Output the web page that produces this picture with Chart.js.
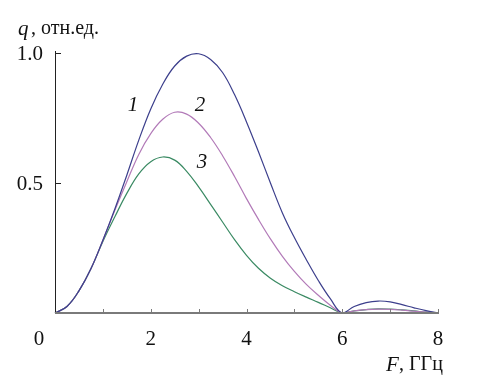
<!DOCTYPE html>
<html lang="ru">
<head>
    <meta charset="UTF-8">
    <title>q(F)</title>
    <script src="https://cdn.jsdelivr.net/npm/chart.js@4.4.0/dist/chart.umd.min.js"></script>
    <style>
        body {
            margin: 0;
            background-color: #fff;
            font-family: "Liberation Serif", "Times New Roman", serif;
        }
        #wrap {
            width: 492px;
            height: 375px;
        }
        .preload {
            position: absolute;
            left: -1000px;
            font-family: "Liberation Serif";
        }
    </style>
</head>
<body>
    <span class="preload">0.5 <i>q</i> отн.ед. ГГц</span>
    <div id="wrap"><canvas id="qChart" width="492" height="375"></canvas></div>
    <script>
        // Frequency grid, GHz
        const freq = [0, 0.25, 0.5, 0.75, 1, 1.25, 1.5, 1.75, 2, 2.25, 2.5, 2.75, 3, 3.25, 3.5, 3.75,
                      4, 4.25, 4.5, 4.75, 5, 5.25, 5.5, 5.75, 6, 6.25, 6.5, 6.75, 7, 7.25, 7.5, 7.75, 8];

        // Curves 1, 2, 3
        const curve1 = [0, 0.025, 0.085, 0.17, 0.28, 0.40, 0.53, 0.665, 0.785, 0.88, 0.95, 0.988, 0.997, 0.975, 0.925, 0.84,
                        0.735, 0.62, 0.50, 0.385, 0.29, 0.205, 0.125, 0.055, 0, 0.025, 0.04, 0.046, 0.043, 0.032, 0.02, 0.009, 0];
        const curve2 = [0, 0.025, 0.085, 0.17, 0.28, 0.395, 0.505, 0.61, 0.69, 0.745, 0.772, 0.765, 0.73, 0.675, 0.605, 0.525,
                        0.44, 0.36, 0.285, 0.218, 0.16, 0.11, 0.068, 0.03, 0, 0.008, 0.013, 0.015, 0.014, 0.011, 0.007, 0.003, 0];
        const curve3 = [0, 0.025, 0.085, 0.17, 0.275, 0.37, 0.46, 0.535, 0.582, 0.60, 0.588, 0.545, 0.485, 0.418, 0.35, 0.282,
                        0.222, 0.172, 0.134, 0.105, 0.082, 0.061, 0.041, 0.02, 0, 0.008, 0.013, 0.016, 0.015, 0.012, 0.008, 0.003, 0];

        const xTicks = [0, 2, 4, 6, 8];
        const xMinorTicks = [1, 2, 3, 4, 5, 6, 7, 8];
        const yTicks = [0.5, 1.0];
        const curveNames = ['1', '2', '3'];

        const SERIF = '"Liberation Serif", "Times New Roman", serif';
        const toPoints = ys => freq.map((f, i) => ({ x: f, y: ys[i] }));

        // Axes, ticks and texts drawn in the old-plot style
        const axesPlugin = {
            id: 'axesPlugin',
            afterDatasetsDraw(chart) {
                const ctx = chart.ctx;
                const xs = chart.scales.x, ys = chart.scales.y;
                const x0 = xs.getPixelForValue(0), x8 = xs.getPixelForValue(8);
                const y0 = ys.getPixelForValue(0), y1 = ys.getPixelForValue(1);
                ctx.save();

                // y axis
                ctx.strokeStyle = '#222';
                ctx.lineWidth = 1;
                ctx.beginPath();
                ctx.moveTo(x0 + 0.5, y1 - 2);
                ctx.lineTo(x0 + 0.5, y0);
                ctx.stroke();
                yTicks.forEach(v => {
                    const py = Math.round(ys.getPixelForValue(v)) + 0.5;
                    ctx.beginPath();
                    ctx.moveTo(x0, py);
                    ctx.lineTo(x0 + 6, py);
                    ctx.stroke();
                });

                // x axis
                ctx.strokeStyle = '#7a7a7a';
                ctx.lineWidth = 2;
                ctx.beginPath();
                ctx.moveTo(x0, y0);
                ctx.lineTo(x8 + 1, y0);
                ctx.stroke();
                ctx.lineWidth = 1;
                xMinorTicks.forEach(v => {
                    const px = Math.round(xs.getPixelForValue(v)) + 0.5;
                    ctx.beginPath();
                    ctx.moveTo(px, y0);
                    ctx.lineTo(px, y0 - 4);
                    ctx.stroke();
                });

                // tick labels
                ctx.fillStyle = '#111';
                ctx.font = '21px ' + SERIF;
                ctx.textBaseline = 'middle';
                ctx.textAlign = 'right';
                yTicks.forEach(v => {
                    ctx.fillText(v.toFixed(1), x0 - 12, ys.getPixelForValue(v) + 1);
                });
                ctx.textAlign = 'center';
                xTicks.forEach(v => {
                    const px = v === 0 ? x0 - 16 : xs.getPixelForValue(v);
                    ctx.fillText(String(v), px, y0 + 26);
                });

                // axis titles
                ctx.textAlign = 'left';
                ctx.font = 'italic 21px ' + SERIF;
                ctx.fillText('q', 18, 29);
                ctx.font = '20px ' + SERIF;
                ctx.fillText(', отн.ед.', 31, 29);
                ctx.font = 'italic 21px ' + SERIF;
                ctx.fillText('F', 386, 365);
                ctx.font = '20px ' + SERIF;
                ctx.fillText(', ГГц', 399, 365);

                // curve numbers
                ctx.font = 'italic 21px ' + SERIF;
                ctx.textAlign = 'center';
                const marks = [[1.63, 0.80], [3.03, 0.80], [3.07, 0.577]];
                marks.forEach((m, i) => {
                    ctx.fillText(curveNames[i], xs.getPixelForValue(m[0]), ys.getPixelForValue(m[1]));
                });
                ctx.restore();
            }
        };

        const lineStyle = color => ({
            borderColor: color,
            borderWidth: 1.2,
            pointRadius: 0,
            fill: false,
            tension: 0.4,
            clip: false
        });

        function drawChart() {
            new Chart(document.getElementById('qChart').getContext('2d'), {
                type: 'line',
                data: {
                    datasets: [
                        { label: '1', data: toPoints(curve1), ...lineStyle('#3c3f8c') },
                        { label: '2', data: toPoints(curve2), ...lineStyle('#b27ab8') },
                        { label: '3', data: toPoints(curve3), ...lineStyle('#3a8a63') }
                    ]
                },
                options: {
                    responsive: false,
                    animation: false,
                    layout: { padding: { left: 55, right: 54, top: 53, bottom: 62 } },
                    plugins: { legend: { display: false }, tooltip: { enabled: false } },
                    scales: {
                        x: { type: 'linear', min: 0, max: 8, display: false },
                        y: { type: 'linear', min: 0, max: 1, display: false }
                    }
                },
                plugins: [axesPlugin]
            });
        }

        Promise.all([
            document.fonts.load('21px "Liberation Serif"'),
            document.fonts.load('italic 21px "Liberation Serif"')
        ]).then(drawChart, drawChart);
    </script>
</body>
</html>
